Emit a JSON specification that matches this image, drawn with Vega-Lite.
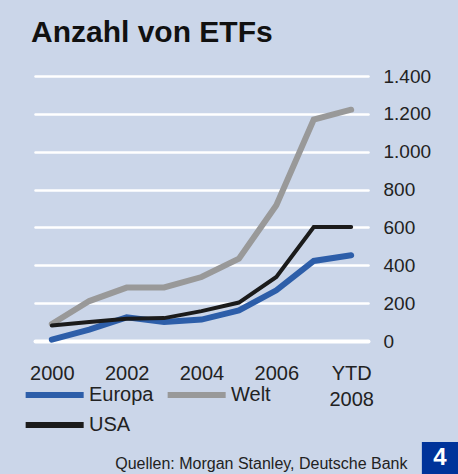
{
  "$schema": "https://vega.github.io/schema/vega-lite/v6.json",
  "width": 333,
  "height": 265,
  "autosize": "none",
  "padding": {"left": 35, "top": 76, "right": 90, "bottom": 133},
  "background": "#cbd6e9",
  "title": {
    "text": "Anzahl von ETFs",
    "anchor": "start",
    "frame": "group",
    "font": "Liberation Sans",
    "fontSize": 30,
    "fontWeight": "bold",
    "color": "#111111",
    "baseline": "alphabetic",
    "offset": -5,
    "dx": -4
  },
  "layer": [
    {
      "data": {
        "values": [
          {"year": 2000, "region": "Welt", "n": 90},
          {"year": 2001, "region": "Welt", "n": 211},
          {"year": 2002, "region": "Welt", "n": 282},
          {"year": 2003, "region": "Welt", "n": 283},
          {"year": 2004, "region": "Welt", "n": 338},
          {"year": 2005, "region": "Welt", "n": 435},
          {"year": 2006, "region": "Welt", "n": 717},
          {"year": 2007, "region": "Welt", "n": 1170},
          {"year": 2008, "region": "Welt", "n": 1222},
          {"year": 2000, "region": "Europa", "n": 7},
          {"year": 2001, "region": "Europa", "n": 60},
          {"year": 2002, "region": "Europa", "n": 125},
          {"year": 2003, "region": "Europa", "n": 100},
          {"year": 2004, "region": "Europa", "n": 113},
          {"year": 2005, "region": "Europa", "n": 162},
          {"year": 2006, "region": "Europa", "n": 268},
          {"year": 2007, "region": "Europa", "n": 423},
          {"year": 2008, "region": "Europa", "n": 453},
          {"year": 2000, "region": "USA", "n": 82},
          {"year": 2001, "region": "USA", "n": 100},
          {"year": 2002, "region": "USA", "n": 117},
          {"year": 2003, "region": "USA", "n": 121},
          {"year": 2004, "region": "USA", "n": 158},
          {"year": 2005, "region": "USA", "n": 203},
          {"year": 2006, "region": "USA", "n": 338},
          {"year": 2007, "region": "USA", "n": 602},
          {"year": 2008, "region": "USA", "n": 602}
        ]
      },
      "encoding": {
        "x": {
          "field": "year",
          "type": "quantitative",
          "scale": {"domain": [1999.55, 2008.45], "nice": false, "zero": false},
          "axis": {
            "orient": "bottom",
            "values": [2000, 2002, 2004, 2006, 2008],
            "tickCount": 10,
            "labelExpr": "datum.value == 2008 ? ['YTD', '2008'] : format(datum.value, 'd')",
            "grid": false,
            "domain": false,
            "ticks": false,
            "labelFlush": false,
            "labelOverlap": false,
            "labelFont": "Liberation Sans",
            "labelFontSize": 20,
            "labelColor": "#222222",
            "labelPadding": 22,
            "labelLineHeight": 26,
            "title": "Quellen: Morgan Stanley, Deutsche Bank",
            "titleFont": "Liberation Sans",
            "titleFontSize": 16,
            "titleFontWeight": "normal",
            "titleColor": "#222222",
            "titleAlign": "right",
            "titleBaseline": "alphabetic",
            "titleAnchor": "end",
            "titleX": 372,
            "titleY": 127
          }
        },
        "y": {
          "field": "n",
          "type": "quantitative",
          "scale": {"domain": [0, 1400], "nice": false},
          "axis": {
            "orient": "right",
            "values": [0, 200, 400, 600, 800, 1000, 1200, 1400],
            "tickCount": 10,
            "labelExpr": "replace(format(datum.value, ','), ',', '.')",
            "labelOverlap": false,
            "grid": true,
            "gridColor": "#ffffff",
            "gridOpacity": 1,
            "gridCap": "round",
            "gridWidth": {"condition": {"test": "datum.value === 0", "value": 4}, "value": 2.5},
            "domain": false,
            "ticks": false,
            "labelFont": "Liberation Sans",
            "labelFontSize": 19,
            "labelColor": "#222222",
            "labelPadding": 15,
            "title": null
          }
        },
        "color": {
          "field": "region",
          "type": "nominal",
          "scale": {"domain": ["Europa", "Welt", "USA"], "range": ["#2d5ea9", "#999999", "#1b1b1b"]},
          "legend": {
            "orient": "none",
            "legendX": 26,
            "legendY": 306,
            "direction": "horizontal",
            "columns": 2,
            "title": null
          }
        }
      },
      "layer": [
        {
          "transform": [{"filter": "datum.region === 'Welt'"}],
          "mark": {"type": "line", "strokeWidth": 6, "strokeCap": "round", "strokeJoin": "miter"}
        },
        {
          "transform": [{"filter": "datum.region === 'Europa'"}],
          "mark": {"type": "line", "strokeWidth": 6, "strokeCap": "round", "strokeJoin": "miter"}
        },
        {
          "transform": [{"filter": "datum.region === 'USA'"}],
          "mark": {"type": "line", "strokeWidth": 4, "strokeCap": "round", "strokeJoin": "miter"}
        }
      ]
    },
    {
      "data": {"values": [{"badge": "4"}]},
      "mark": {"type": "rect", "color": "#00339a"},
      "encoding": {
        "x": {"datum": 2009.89, "type": "quantitative", "axis": {"orient": "bottom", "title": "Quellen: Morgan Stanley, Deutsche Bank"}},
        "x2": {"datum": 2010.9},
        "y": {"datum": -534, "type": "quantitative", "axis": {"orient": "right", "title": null}},
        "y2": {"datum": -780}
      }
    },
    {
      "data": {"values": [{"badge": "4"}]},
      "mark": {"type": "text", "color": "#ffffff", "font": "Liberation Sans", "fontSize": 24, "fontWeight": "bold", "align": "center", "baseline": "middle"},
      "encoding": {
        "x": {"datum": 2010.37, "type": "quantitative", "axis": {"orient": "bottom", "title": "Quellen: Morgan Stanley, Deutsche Bank"}},
        "y": {"datum": -620, "type": "quantitative", "axis": {"orient": "right", "title": null}},
        "text": {"field": "badge"}
      }
    }
  ],
  "config": {
    "view": {"stroke": null},
    "legend": {
      "symbolType": "M-5,0H1",
      "symbolSize": 374,
      "symbolStrokeWidth": 6,
      "labelFont": "Liberation Sans",
      "labelFontSize": 20,
      "labelColor": "#222222",
      "labelOffset": 2,
      "columnPadding": 1,
      "rowPadding": 5,
      "padding": 0
    }
  }
}
